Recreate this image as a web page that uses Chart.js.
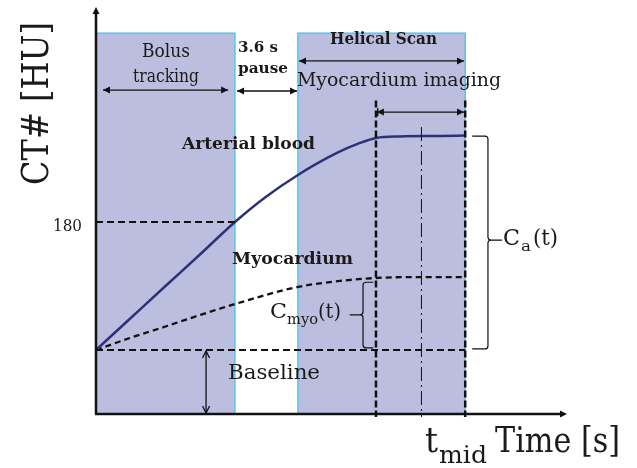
<!DOCTYPE html>
<html><head><meta charset="utf-8">
<script src="https://cdn.jsdelivr.net/npm/chart.js@4"></script>
<style>html,body{margin:0;padding:0;background:#fff}#wrap{width:637px;height:468px}</style>
</head><body><div id="wrap"><canvas id="c" width="637" height="468"></canvas></div>
<script>
// ---- data (time in s, CT number in HU) ----
const arterialTime = [0, 1.94, 3.94, 5.94, 7.94, 9.66, 11.54, 13.77, 15.09, 16.0, 17.37, 19.66, 21.1];
const arterialHU   = [60, 89.3, 119.5, 149.5, 180, 203, 224.1, 244.7, 254.1, 258.8, 260.2, 260.6, 261.1];
const myoTime = [0, 2.11, 4.06, 5.94, 7.94, 11.54, 13.94, 16.0, 18.51, 21.1];
const myoHU   = [60, 72.2, 82.5, 92.8, 103.1, 119.1, 124.7, 127.5, 128.4, 128.4];
const phaseNames = ['Bolus tracking', '3.6 s pause', 'Helical Scan'];
const phaseStart = [0, 7.94, 11.54];
const phaseEnd   = [7.94, 11.54, 21.1];
const plateauStart = 16.0;
const tMid = 18.6;
const baselineHU = 60;
const thresholdHU = 180;
const yTickLabels = ['180'];
const xMax = 26.86, yMax = 380.6;

const serif = '"DejaVu Serif", serif';
function txt(ctx, s, x, y, size, width, bold) {
  ctx.save();
  ctx.font = (bold ? 'bold ' : '') + size + 'px ' + serif;
  ctx.textAlign = 'left'; ctx.textBaseline = 'alphabetic';
  const w = ctx.measureText(s).width;
  ctx.translate(x, y);
  if (width) ctx.scale(width / w, 1);
  ctx.fillText(s, 0, 0);
  ctx.restore();
}
function head(ctx, x, y, dx, dy, filled) {
  const L = Math.hypot(dx, dy), ux = dx / L, uy = dy / L, len = 7, hw = 3.5;
  ctx.beginPath();
  ctx.moveTo(x - ux * len - uy * hw, y - uy * len + ux * hw);
  ctx.lineTo(x, y);
  ctx.lineTo(x - ux * len + uy * hw, y - uy * len - ux * hw);
  if (filled) { ctx.closePath(); ctx.fill(); } else ctx.stroke();
}
function dblArrow(ctx, x1, y1, x2, y2, filled) {
  ctx.beginPath(); ctx.moveTo(x1, y1); ctx.lineTo(x2, y2); ctx.stroke();
  head(ctx, x2, y2, x2 - x1, y2 - y1, filled);
  head(ctx, x1, y1, x1 - x2, y1 - y2, filled);
}
function vline(ctx, x, y1, y2, dash, w) {
  ctx.save(); ctx.setLineDash(dash); ctx.lineWidth = w;
  ctx.beginPath(); ctx.moveTo(x, y1); ctx.lineTo(x, y2); ctx.stroke(); ctx.restore();
}
function hline(ctx, y, x1, x2, dash, w) {
  ctx.save(); ctx.setLineDash(dash); ctx.lineWidth = w;
  ctx.beginPath(); ctx.moveTo(x1, y); ctx.lineTo(x2, y); ctx.stroke(); ctx.restore();
}

const decor = {
  id: 'decor',
  beforeDatasetsDraw(chart) {
    const ctx = chart.ctx, X = v => chart.scales.x.getPixelForValue(v), Y = v => chart.scales.y.getPixelForValue(v);
    ctx.save();
    [0, 2].forEach(i => {
      const x1 = X(phaseStart[i]), x2 = X(phaseEnd[i]), y1 = Y(357), y2 = Y(0);
      ctx.fillStyle = '#bcbedf';
      ctx.fillRect(x1, y1, x2 - x1, y2 - y1);
      ctx.strokeStyle = '#55c6ee'; ctx.lineWidth = 1.5;
      ctx.strokeRect(x1, y1, x2 - x1, y2 - y1);
    });
    ctx.restore();
  },
  afterDatasetsDraw(chart) {
    const ctx = chart.ctx, X = v => chart.scales.x.getPixelForValue(v), Y = v => chart.scales.y.getPixelForValue(v);
    ctx.save();
    ctx.strokeStyle = '#111'; ctx.fillStyle = '#111';
    // reference dashed lines
    hline(ctx, Y(thresholdHU), X(0), X(phaseEnd[0]), [7, 4], 2.2);
    hline(ctx, Y(baselineHU), X(0), X(phaseEnd[2]), [7, 4], 2.2);
    vline(ctx, X(plateauStart), Y(294), Y(0) + 3, [7, 3], 2.5);
    vline(ctx, X(phaseEnd[2]), Y(294), Y(0) + 3, [7, 3], 2.5);
    vline(ctx, X(tMid), Y(269), Y(0) + 3, [14, 4, 2, 4], 1);
    // arrows
    ctx.lineWidth = 1.3;
    dblArrow(ctx, X(0.4), Y(303.7), X(7.55), Y(303.7), true);
    dblArrow(ctx, X(8.06), Y(302.8), X(11.49), Y(302.8), true);
    dblArrow(ctx, X(11.6), Y(331), X(21.03), Y(331), true);
    dblArrow(ctx, X(plateauStart + 0.05), Y(283), X(21.03), Y(283), true);
    vline(ctx, X(plateauStart + 0.1), Y(283) - 4, Y(283) + 4, [], 1.5);
    dblArrow(ctx, X(6.29), Y(baselineHU) + 1, X(6.29), Y(0) - 1, false);
    // brace C_a
    ctx.lineWidth = 1.2;
    let bx = X(22.4), ex = X(21.5), top = Y(260.5), bot = Y(61), mid = Y(163);
    ctx.beginPath();
    ctx.moveTo(ex, top); ctx.lineTo(bx - 3, top); ctx.quadraticCurveTo(bx, top, bx, top + 3);
    ctx.lineTo(bx, mid - 3); ctx.quadraticCurveTo(bx, mid, bx + 3, mid); ctx.lineTo(X(23.2), mid);
    ctx.moveTo(bx + 3, mid); ctx.quadraticCurveTo(bx, mid, bx, mid + 3);
    ctx.lineTo(bx, bot - 3); ctx.quadraticCurveTo(bx, bot, bx - 3, bot); ctx.lineTo(ex, bot);
    ctx.stroke();
    // brace C_myo
    bx = X(15.26); ex = X(15.85); top = Y(123.5); bot = Y(62); mid = Y(93);
    ctx.beginPath();
    ctx.moveTo(ex, top); ctx.lineTo(bx + 3, top); ctx.quadraticCurveTo(bx, top, bx, top + 3);
    ctx.lineTo(bx, mid - 3); ctx.quadraticCurveTo(bx, mid, bx - 3, mid); ctx.lineTo(X(14.5), mid);
    ctx.moveTo(bx - 3, mid); ctx.quadraticCurveTo(bx, mid, bx, mid + 3);
    ctx.lineTo(bx, bot - 3); ctx.quadraticCurveTo(bx, bot, bx + 3, bot); ctx.lineTo(ex, bot);
    ctx.stroke();
    // axes
    ctx.lineWidth = 2.5;
    ctx.beginPath(); ctx.moveTo(X(0), Y(0)); ctx.lineTo(X(0), Y(yMax) + 4); ctx.stroke();
    ctx.beginPath(); ctx.moveTo(X(0) - 1, Y(0)); ctx.lineTo(X(xMax) - 4, Y(0)); ctx.stroke();
    ctx.lineWidth = 1;
    head(ctx, X(0), Y(yMax) - 1, 0, -1, true);
    head(ctx, X(xMax) + 1, Y(0), 1, 0, true);
    // texts
    ctx.fillStyle = '#1c1a18';
    ctx.save(); ctx.translate(48, 185); ctx.rotate(-Math.PI / 2);
    txt(ctx, 'CT# [HU]', 0, 0, 37, 163); ctx.restore();
    txt(ctx, yTickLabels[0], 53, Y(thresholdHU) + 9, 17, 29);
    txt(ctx, 'Time [s]', 495, 452, 36, 125);
    txt(ctx, 't', 425, 452, 36, 13);
    txt(ctx, 'mid', 439, 463, 24, 48);
    txt(ctx, 'Bolus', 142, 57, 18, 48);
    txt(ctx, 'tracking', 133, 82, 18, 66);
    txt(ctx, '3.6 s', 238, 52, 14, 40, true);
    txt(ctx, 'pause', 238, 73, 14, 50, true);
    txt(ctx, phaseNames[2], 330, 44, 16, 107, true);
    txt(ctx, 'Myocardium imaging', 297, 86, 19, 204);
    txt(ctx, 'Arterial blood', 182, 149, 17, 133, true);
    txt(ctx, 'Myocardium', 232, 264, 17, 121, true);
    txt(ctx, 'Baseline', 228, 379, 20, 92);
    txt(ctx, 'C', 503, 245, 23, 17);
    txt(ctx, 'a', 521, 251, 15, 10);
    txt(ctx, '(t)', 533, 245, 23, 25);
    txt(ctx, 'C', 270, 318, 21, 17);
    txt(ctx, 'myo', 287, 324, 14, 31);
    txt(ctx, '(t)', 318, 318, 21, 23);
    ctx.restore();
  }
};

new Chart(document.getElementById('c'), {
  type: 'line',
  data: {
    datasets: [
      { label: 'Arterial blood', data: arterialTime.map((t, i) => ({ x: t, y: arterialHU[i] })),
        borderColor: '#2d3278', borderWidth: 2.5, pointRadius: 0, cubicInterpolationMode: 'monotone', fill: false },
      { label: 'Myocardium', data: myoTime.map((t, i) => ({ x: t, y: myoHU[i] })),
        borderColor: '#111', borderWidth: 2.3, borderDash: [6, 4], pointRadius: 0, cubicInterpolationMode: 'monotone', fill: false }
    ]
  },
  options: {
    responsive: false, animation: false, devicePixelRatio: 1,
    layout: { padding: { left: 96, top: 8, right: 71, bottom: 54 } },
    scales: {
      x: { type: 'linear', min: 0, max: xMax, display: false },
      y: { type: 'linear', min: 0, max: yMax, display: false }
    },
    plugins: { legend: { display: false }, tooltip: { enabled: false } }
  },
  plugins: [decor]
});
</script></body></html>
